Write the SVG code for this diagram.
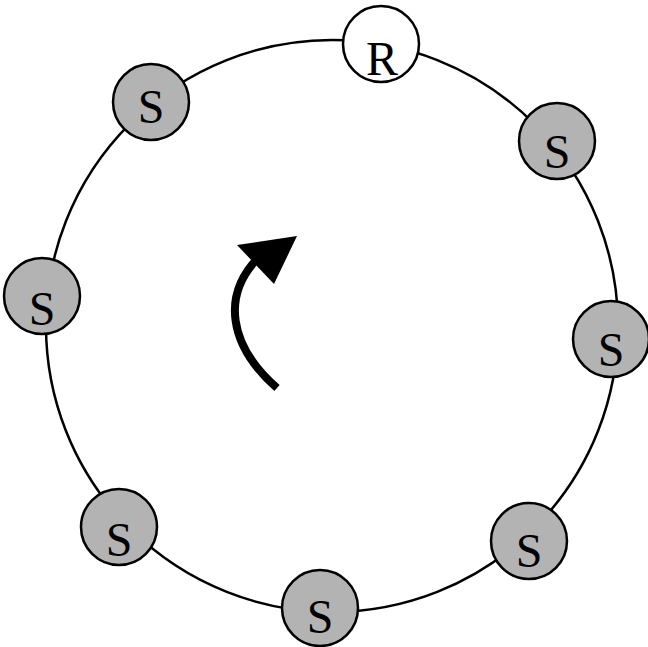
<svg xmlns="http://www.w3.org/2000/svg" width="648" height="647" viewBox="0 0 648 647">
<style>
.node{fill:#b3b3b3;stroke:#000;stroke-width:2.5}
.root{fill:#fff;stroke:#000;stroke-width:2.5}
.lbl{font-family:"Liberation Serif","Times New Roman",serif;font-size:48px;text-anchor:middle;fill:#000}
</style>
<rect width="648" height="647" fill="#fff"/>
<g id="connectors">
<circle cx="332" cy="326" r="286" fill="none" stroke="#000" stroke-width="2.5"/>
<path d="M277,388 C228,345 222,295 258,258" fill="none" stroke="#000" stroke-width="8"/>
<polygon points="237,245 297,236 274,284" fill="#000"/>
</g>
<g id="R"><circle class="root" cx="381" cy="44" r="38"/><text class="lbl" x="382" y="75">R</text></g>
<g id="S1"><circle class="node" cx="151" cy="102" r="38"/><text class="lbl" x="151" y="123">S</text></g>
<g id="S2"><circle class="node" cx="557" cy="141" r="38"/><text class="lbl" x="557" y="168">S</text></g>
<g id="S3"><circle class="node" cx="42" cy="296" r="38"/><text class="lbl" x="42" y="325">S</text></g>
<g id="S4"><circle class="node" cx="611" cy="339" r="38"/><text class="lbl" x="611" y="366">S</text></g>
<g id="S5"><circle class="node" cx="119" cy="527" r="38"/><text class="lbl" x="119" y="556">S</text></g>
<g id="S6"><circle class="node" cx="529" cy="541" r="38"/><text class="lbl" x="529" y="567">S</text></g>
<g id="S7"><circle class="node" cx="320" cy="608" r="38"/><text class="lbl" x="320" y="633">S</text></g>
</svg>
